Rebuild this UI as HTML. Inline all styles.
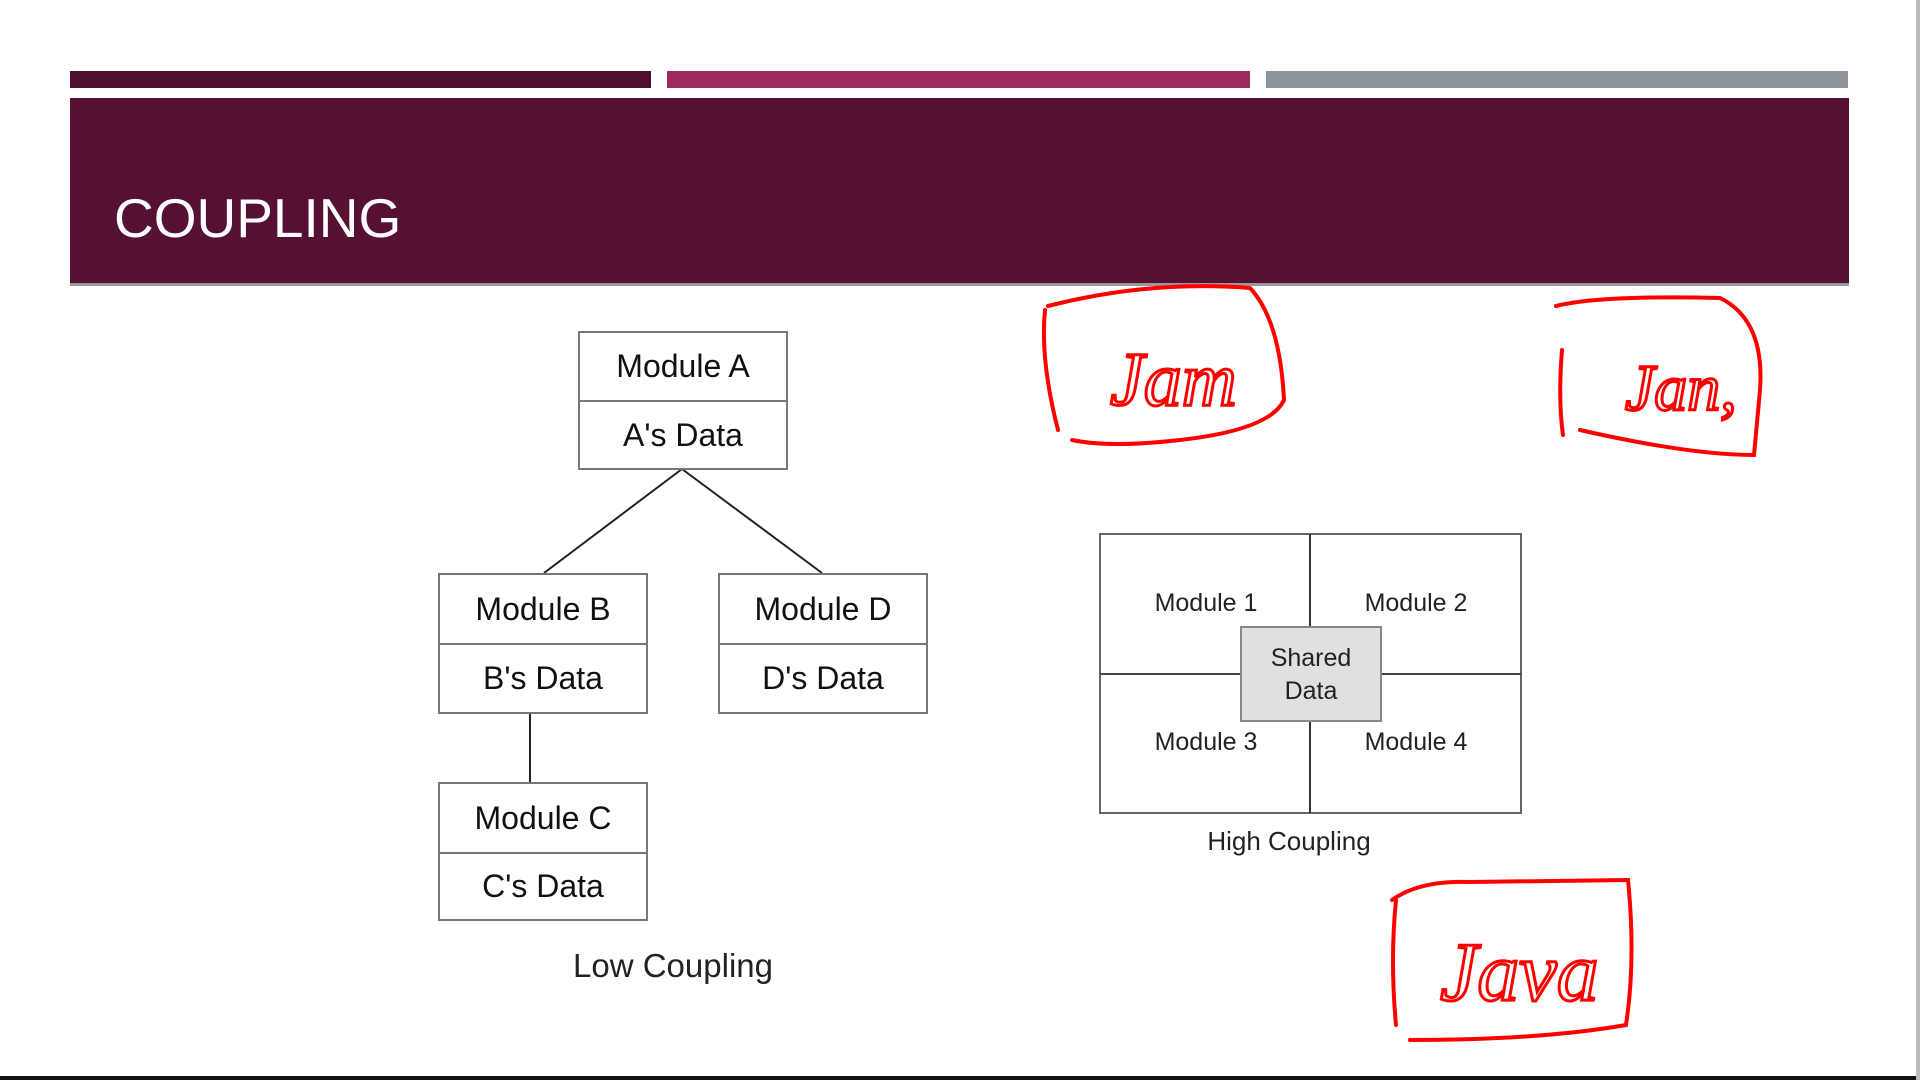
<!DOCTYPE html>
<html><head><meta charset="utf-8"><style>
html,body{margin:0;padding:0;background:#fff;}
body{width:1920px;height:1080px;position:relative;overflow:hidden;font-family:"Liberation Sans",Arial,sans-serif;}
.a{position:absolute;}
.box{position:absolute;border:2px solid #777;box-sizing:border-box;background:#fff;}
.cell{position:absolute;left:0;right:0;display:flex;align-items:center;justify-content:center;font-size:32px;color:#111;}
</style></head><body>
<div class="a" style="left:70px;top:71px;width:581px;height:17px;background:#4f1030;"></div>
<div class="a" style="left:667px;top:71px;width:583px;height:17px;background:#9e2a60;"></div>
<div class="a" style="left:1266px;top:71px;width:582px;height:17px;background:#8f969b;"></div>
<div class="a" style="left:70px;top:98px;width:1779px;height:188px;background:#561032;border-bottom:3px solid #999;box-sizing:border-box;"></div>
<div class="a" style="left:114px;top:183px;font-size:55px;color:#fff;line-height:70px;">COUPLING</div>
<div class="a" style="left:0;top:1076px;width:1920px;height:4px;background:#111;"></div>
<div class="a" style="left:1916px;top:0;width:4px;height:1080px;background:#bbb;"></div>

<svg class="a" style="left:0;top:0" width="1920" height="1080">
<g stroke="#222" stroke-width="2" fill="none">
<line x1="682" y1="469" x2="544" y2="573"/>
<line x1="682" y1="469" x2="822" y2="573"/>
<line x1="530" y1="713" x2="530" y2="782"/>
</g>
<g stroke="#666" stroke-width="2" fill="none">
<rect x="1100" y="534" width="421" height="279"/>
<line x1="1310" y1="534" x2="1310" y2="813" stroke="#333"/>
<line x1="1100" y1="674" x2="1521" y2="674" stroke="#444"/>
</g>
<rect x="1241" y="627" width="140" height="94" fill="#e0e0e0" stroke="#888" stroke-width="2"/>
<g fill="#222" font-family="Liberation Sans, Arial, sans-serif" font-size="25" text-anchor="middle">
<text x="1206" y="611">Module 1</text>
<text x="1416" y="611">Module 2</text>
<text x="1206" y="750">Module 3</text>
<text x="1416" y="750">Module 4</text>
<text x="1311" y="666">Shared</text>
<text x="1311" y="699">Data</text>
<text x="1289" y="850" font-size="26">High Coupling</text>
<text x="673" y="977" font-size="33">Low Coupling</text>
</g>
<g stroke="#f00" stroke-width="4" fill="none" stroke-linecap="round">
<path d="M1045 310 Q1040 360 1058 430 M1048 306 Q1150 280 1250 288 Q1280 320 1284 400 Q1270 430 1180 440 Q1110 448 1072 440"/>
<path d="M1562 350 Q1558 400 1563 435 M1556 306 Q1600 295 1720 298 Q1765 320 1760 390 L1754 455 Q1690 455 1580 430"/>
<path d="M1396 900 Q1390 960 1396 1025 M1392 900 Q1420 880 1470 882 L1628 880 Q1636 960 1626 1025 Q1540 1040 1410 1040"/>
</g>
<g fill="none" stroke="#f00" stroke-width="3" font-family="Liberation Serif, serif" font-style="italic" font-size="76">
<text x="1110" y="405">Jam</text>
<text x="1625" y="410" font-size="66">Jan,</text>
<text x="1440" y="1000" font-size="84">Java</text>
</g>
</svg>

<div class="box" style="left:578px;top:331px;width:210px;height:139px;">
<div class="cell" style="top:0;height:67px;border-bottom:2px solid #777;">Module A</div>
<div class="cell" style="top:68px;height:68px;">A's Data</div></div>
<div class="box" style="left:438px;top:573px;width:210px;height:141px;">
<div class="cell" style="top:0;height:68px;border-bottom:2px solid #777;">Module B</div>
<div class="cell" style="top:69px;height:68px;">B's Data</div></div>
<div class="box" style="left:718px;top:573px;width:210px;height:141px;">
<div class="cell" style="top:0;height:68px;border-bottom:2px solid #777;">Module D</div>
<div class="cell" style="top:69px;height:68px;">D's Data</div></div>
<div class="box" style="left:438px;top:782px;width:210px;height:139px;">
<div class="cell" style="top:0;height:68px;border-bottom:2px solid #777;">Module C</div>
<div class="cell" style="top:69px;height:67px;">C's Data</div></div>
</body></html>
